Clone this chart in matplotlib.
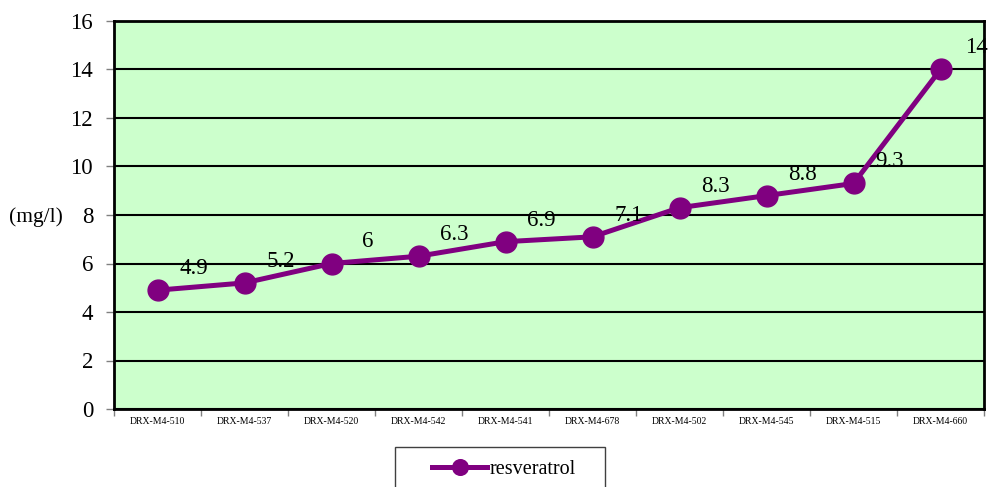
import matplotlib.pyplot as plt
from matplotlib.patches import Rectangle

plt.rcParams['font.family'] = ['Liberation Serif', 'DejaVu Serif']

samples = ['DRX-M4-510', 'DRX-M4-537', 'DRX-M4-520', 'DRX-M4-542', 'DRX-M4-541',
           'DRX-M4-678', 'DRX-M4-502', 'DRX-M4-545', 'DRX-M4-515', 'DRX-M4-660']
resveratrol = [4.9, 5.2, 6, 6.3, 6.9, 7.1, 8.3, 8.8, 9.3, 14]

purple = '#800080'
W, H = 988, 487

fig = plt.figure(figsize=(W / 100, H / 100), dpi=100)
ax = fig.add_axes([114 / W, 1 - 409 / H, 870 / W, 388 / H])
ax.set_facecolor('#CCFFCC')

x = list(range(len(samples)))
ax.plot(x, resveratrol, color=purple, lw=3.6, marker='o', ms=15,
        label='resveratrol', zorder=3, clip_on=False)

# value labels sit up and to the right of each point
for xi, v in zip(x, resveratrol):
    ax.annotate(f'{v:g}', (xi, v), xytext=(36, 16), textcoords='offset pixels',
                ha='center', va='baseline', fontsize=16.5, zorder=4)

ax.set_xlim(-0.5, len(samples) - 0.5)
ax.set_ylim(0, 16)
ax.set_yticks(range(0, 17, 2))
ax.yaxis.grid(True, color='black', lw=1.5)
ax.set_axisbelow(True)

# ticks between categories, names centred under each point
ax.set_xticks([i - 0.5 for i in range(len(samples) + 1)])
ax.set_xticklabels([])
ax.set_xticks(x, minor=True)
ax.set_xticklabels(samples, minor=True, fontsize=7)
ax.tick_params(axis='x', which='minor', length=0, pad=6)
ax.tick_params(axis='x', which='major', length=5, color='#808080', width=1)
ax.tick_params(axis='y', length=6, color='#808080', width=1, labelsize=16.5, pad=9)

for sp in ax.spines.values():
    sp.set_color('black')
    sp.set_linewidth(2)

fig.text(36 / W, 1 - 217 / H, '(mg/l)', fontsize=15.5, ha='center', va='center')

# legend box
fig.patches.append(Rectangle((395 / W, 1 - 500 / H), 210 / W, 53 / H,
                             transform=fig.transFigure, facecolor='white',
                             edgecolor='#404040', lw=1))
leg = fig.legend(loc='center left', bbox_to_anchor=(432 / W, 1 - 469 / H),
                 frameon=False, fontsize=14.5, handlelength=2.75,
                 handletextpad=0.1, borderpad=0, borderaxespad=0,
                 markerscale=0.75)

fig.savefig('out.png', dpi=100, facecolor='white')
